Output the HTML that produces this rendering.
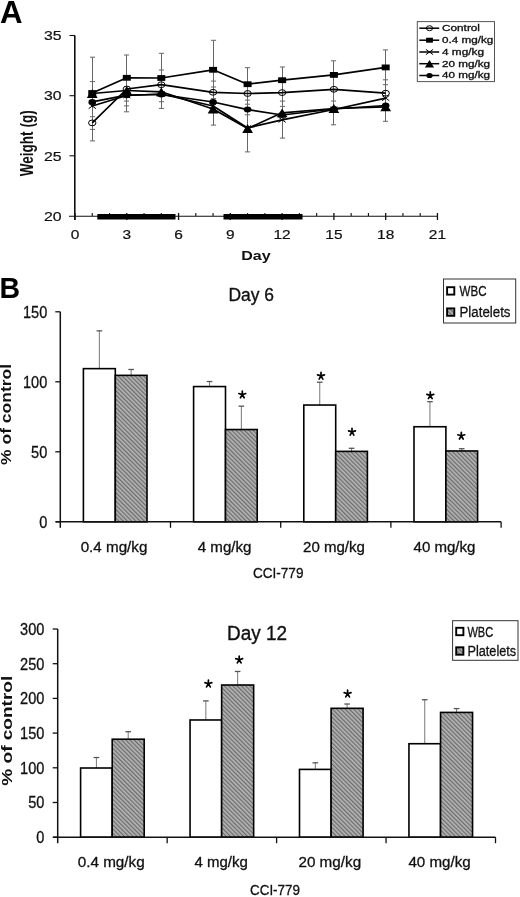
<!DOCTYPE html>
<html><head><meta charset="utf-8"><title>Figure</title>
<style>
html,body{margin:0;padding:0;background:#fff;}
svg{display:block;font-family:"Liberation Sans", sans-serif;will-change:transform;}
</style></head><body>
<svg width="520" height="897" viewBox="0 0 520 897">
<defs>
<pattern id="hatch" patternUnits="userSpaceOnUse" width="3" height="3" patternTransform="rotate(-45)">
<rect width="3" height="3" fill="#b6b6b6"/><rect width="1.3" height="3" fill="#6c6c6c"/>
</pattern>
</defs>
<rect width="520" height="897" fill="#fff"/>
<g id="panelA">
<text x="0" y="22.5" font-size="31.2" text-anchor="start" font-weight="bold" fill="#000" >A</text>
<g stroke="#111" fill="none">
<line x1="74.8" y1="35.5" x2="74.8" y2="220" stroke-width="1.6"/>
<line x1="69" y1="216.2" x2="437.5" y2="216.2" stroke-width="1.1"/>
<line x1="69.5" y1="35.5" x2="75" y2="35.5" stroke-width="1.1"/>
<line x1="69.5" y1="95.7" x2="75" y2="95.7" stroke-width="1.1"/>
<line x1="69.5" y1="155.8" x2="75" y2="155.8" stroke-width="1.1"/>
<line x1="75.00" y1="213" x2="75.00" y2="220" stroke-width="1.3"/>
<line x1="92.26" y1="213" x2="92.26" y2="216" stroke-width="1.1"/>
<line x1="109.52" y1="213" x2="109.52" y2="216" stroke-width="1.1"/>
<line x1="126.78" y1="213" x2="126.78" y2="220" stroke-width="1.3"/>
<line x1="144.04" y1="213" x2="144.04" y2="216" stroke-width="1.1"/>
<line x1="161.30" y1="213" x2="161.30" y2="216" stroke-width="1.1"/>
<line x1="178.56" y1="213" x2="178.56" y2="220" stroke-width="1.3"/>
<line x1="195.82" y1="213" x2="195.82" y2="216" stroke-width="1.1"/>
<line x1="213.08" y1="213" x2="213.08" y2="216" stroke-width="1.1"/>
<line x1="230.34" y1="213" x2="230.34" y2="220" stroke-width="1.3"/>
<line x1="247.60" y1="213" x2="247.60" y2="216" stroke-width="1.1"/>
<line x1="264.86" y1="213" x2="264.86" y2="216" stroke-width="1.1"/>
<line x1="282.12" y1="213" x2="282.12" y2="220" stroke-width="1.3"/>
<line x1="299.38" y1="213" x2="299.38" y2="216" stroke-width="1.1"/>
<line x1="316.64" y1="213" x2="316.64" y2="216" stroke-width="1.1"/>
<line x1="333.90" y1="213" x2="333.90" y2="220" stroke-width="1.3"/>
<line x1="351.16" y1="213" x2="351.16" y2="216" stroke-width="1.1"/>
<line x1="368.42" y1="213" x2="368.42" y2="216" stroke-width="1.1"/>
<line x1="385.68" y1="213" x2="385.68" y2="220" stroke-width="1.3"/>
<line x1="402.94" y1="213" x2="402.94" y2="216" stroke-width="1.1"/>
<line x1="420.20" y1="213" x2="420.20" y2="216" stroke-width="1.1"/>
<line x1="437.46" y1="213" x2="437.46" y2="220" stroke-width="1.3"/>
</g>
<rect x="97.3" y="214" width="78.2" height="5.5" fill="#000"/>
<rect x="223.5" y="214" width="79" height="5.5" fill="#000"/>
<text x="61.5" y="40.2" font-size="12.9" text-anchor="end" textLength="17.6" lengthAdjust="spacingAndGlyphs" fill="#111" stroke="#111" stroke-width="0.2" >35</text>
<text x="61.5" y="100.4" font-size="12.9" text-anchor="end" textLength="17.6" lengthAdjust="spacingAndGlyphs" fill="#111" stroke="#111" stroke-width="0.2" >30</text>
<text x="61.5" y="160.5" font-size="12.9" text-anchor="end" textLength="17.6" lengthAdjust="spacingAndGlyphs" fill="#111" stroke="#111" stroke-width="0.2" >25</text>
<text x="61.5" y="220.7" font-size="12.9" text-anchor="end" textLength="17.6" lengthAdjust="spacingAndGlyphs" fill="#111" stroke="#111" stroke-width="0.2" >20</text>
<text x="75.0" y="238.5" font-size="12.9" text-anchor="middle" textLength="8.6" lengthAdjust="spacingAndGlyphs" fill="#111" stroke="#111" stroke-width="0.2" >0</text>
<text x="126.78" y="238.5" font-size="12.9" text-anchor="middle" textLength="8.6" lengthAdjust="spacingAndGlyphs" fill="#111" stroke="#111" stroke-width="0.2" >3</text>
<text x="178.56" y="238.5" font-size="12.9" text-anchor="middle" textLength="8.6" lengthAdjust="spacingAndGlyphs" fill="#111" stroke="#111" stroke-width="0.2" >6</text>
<text x="230.34" y="238.5" font-size="12.9" text-anchor="middle" textLength="8.6" lengthAdjust="spacingAndGlyphs" fill="#111" stroke="#111" stroke-width="0.2" >9</text>
<text x="282.12" y="238.5" font-size="12.9" text-anchor="middle" textLength="17.2" lengthAdjust="spacingAndGlyphs" fill="#111" stroke="#111" stroke-width="0.2" >12</text>
<text x="333.90000000000003" y="238.5" font-size="12.9" text-anchor="middle" textLength="17.2" lengthAdjust="spacingAndGlyphs" fill="#111" stroke="#111" stroke-width="0.2" >15</text>
<text x="385.68" y="238.5" font-size="12.9" text-anchor="middle" textLength="17.2" lengthAdjust="spacingAndGlyphs" fill="#111" stroke="#111" stroke-width="0.2" >18</text>
<text x="437.46000000000004" y="238.5" font-size="12.9" text-anchor="middle" textLength="17.2" lengthAdjust="spacingAndGlyphs" fill="#111" stroke="#111" stroke-width="0.2" >21</text>
<text x="256" y="260" font-size="12.9" text-anchor="middle" font-weight="bold" textLength="29.5" lengthAdjust="spacingAndGlyphs" fill="#111" >Day</text>
<text transform="translate(32.8,143.3) scale(1.4,1) rotate(-90)" x="0" y="0" font-size="12.9" font-weight="bold" text-anchor="middle" textLength="66" lengthAdjust="spacingAndGlyphs" fill="#111">Weight (g)</text>
<g stroke="#666" stroke-width="1" fill="none">
<line x1="92.50" y1="57.2" x2="92.50" y2="140.9"/>
<line x1="89.90" y1="57.2" x2="95.10" y2="57.2"/>
<line x1="89.90" y1="81.6" x2="95.10" y2="81.6"/>
<line x1="89.90" y1="116.7" x2="95.10" y2="116.7"/>
<line x1="89.90" y1="129.4" x2="95.10" y2="129.4"/>
<line x1="89.90" y1="140.9" x2="95.10" y2="140.9"/>
<line x1="126.50" y1="55" x2="126.50" y2="111.8"/>
<line x1="123.90" y1="55" x2="129.10" y2="55"/>
<line x1="123.90" y1="101.1" x2="129.10" y2="101.1"/>
<line x1="123.90" y1="105.9" x2="129.10" y2="105.9"/>
<line x1="123.90" y1="111.8" x2="129.10" y2="111.8"/>
<line x1="161.50" y1="53.3" x2="161.50" y2="108.4"/>
<line x1="158.90" y1="53.3" x2="164.10" y2="53.3"/>
<line x1="158.90" y1="70" x2="164.10" y2="70"/>
<line x1="158.90" y1="101.7" x2="164.10" y2="101.7"/>
<line x1="158.90" y1="108.4" x2="164.10" y2="108.4"/>
<line x1="213.50" y1="40.3" x2="213.50" y2="125.1"/>
<line x1="210.90" y1="40.3" x2="216.10" y2="40.3"/>
<line x1="210.90" y1="81.1" x2="216.10" y2="81.1"/>
<line x1="210.90" y1="87" x2="216.10" y2="87"/>
<line x1="210.90" y1="98.6" x2="216.10" y2="98.6"/>
<line x1="210.90" y1="125.1" x2="216.10" y2="125.1"/>
<line x1="247.50" y1="67.7" x2="247.50" y2="151.9"/>
<line x1="244.90" y1="67.7" x2="250.10" y2="67.7"/>
<line x1="244.90" y1="100.1" x2="250.10" y2="100.1"/>
<line x1="244.90" y1="104.2" x2="250.10" y2="104.2"/>
<line x1="244.90" y1="114.8" x2="250.10" y2="114.8"/>
<line x1="244.90" y1="151.9" x2="250.10" y2="151.9"/>
<line x1="282.50" y1="67" x2="282.50" y2="138.1"/>
<line x1="279.90" y1="67" x2="285.10" y2="67"/>
<line x1="279.90" y1="101.1" x2="285.10" y2="101.1"/>
<line x1="279.90" y1="106.4" x2="285.10" y2="106.4"/>
<line x1="279.90" y1="138.1" x2="285.10" y2="138.1"/>
<line x1="333.50" y1="60.8" x2="333.50" y2="124.8"/>
<line x1="330.90" y1="60.8" x2="336.10" y2="60.8"/>
<line x1="330.90" y1="101" x2="336.10" y2="101"/>
<line x1="330.90" y1="124.8" x2="336.10" y2="124.8"/>
<line x1="385.50" y1="49.9" x2="385.50" y2="121.3"/>
<line x1="382.90" y1="49.9" x2="388.10" y2="49.9"/>
<line x1="382.90" y1="79.8" x2="388.10" y2="79.8"/>
<line x1="382.90" y1="84.7" x2="388.10" y2="84.7"/>
<line x1="382.90" y1="121.3" x2="388.10" y2="121.3"/>
</g>
<polyline points="92.26,122.9 126.78,89 161.30,84.7 213.08,92.3 247.60,93.5 282.12,92.6 333.90,89.3 385.68,93.2" fill="none" stroke="#000" stroke-width="1.7" stroke-linejoin="round"/>
<polyline points="92.26,106 126.78,95.5 161.30,94 213.08,106 247.60,128 282.12,119.8 333.90,109.5 385.68,98.1" fill="none" stroke="#000" stroke-width="1.7" stroke-linejoin="round"/>
<polyline points="92.26,101.9 126.78,95.2 161.30,94.5 213.08,102 247.60,109.6 282.12,115 333.90,109 385.68,105.5" fill="none" stroke="#000" stroke-width="1.7" stroke-linejoin="round"/>
<polyline points="92.26,93.5 126.78,90.5 161.30,91.8 213.08,109 247.60,128.5 282.12,112.8 333.90,108.5 385.68,106.8" fill="none" stroke="#000" stroke-width="1.7" stroke-linejoin="round"/>
<polyline points="92.26,93 126.78,77.8 161.30,78 213.08,69.8 247.60,84.2 282.12,80.2 333.90,74.9 385.68,67.4" fill="none" stroke="#000" stroke-width="1.7" stroke-linejoin="round"/>
<ellipse cx="92.26" cy="122.9" rx="3.7" ry="2.9" fill="none" stroke="#000" stroke-width="1"/>
<ellipse cx="126.78" cy="89" rx="3.7" ry="2.9" fill="none" stroke="#000" stroke-width="1"/>
<ellipse cx="161.30" cy="84.7" rx="3.7" ry="2.9" fill="none" stroke="#000" stroke-width="1"/>
<ellipse cx="213.08" cy="92.3" rx="3.7" ry="2.9" fill="none" stroke="#000" stroke-width="1"/>
<ellipse cx="247.60" cy="93.5" rx="3.7" ry="2.9" fill="none" stroke="#000" stroke-width="1"/>
<ellipse cx="282.12" cy="92.6" rx="3.7" ry="2.9" fill="none" stroke="#000" stroke-width="1"/>
<ellipse cx="333.90" cy="89.3" rx="3.7" ry="2.9" fill="none" stroke="#000" stroke-width="1"/>
<ellipse cx="385.68" cy="93.2" rx="3.7" ry="2.9" fill="none" stroke="#000" stroke-width="1"/>
<path d="M88.66,103.4 L95.86,108.6 M88.66,108.6 L95.86,103.4" stroke="#000" stroke-width="1"/>
<path d="M123.18,92.9 L130.38,98.1 M123.18,98.1 L130.38,92.9" stroke="#000" stroke-width="1"/>
<path d="M157.70,91.4 L164.90,96.6 M157.70,96.6 L164.90,91.4" stroke="#000" stroke-width="1"/>
<path d="M209.48,103.4 L216.68,108.6 M209.48,108.6 L216.68,103.4" stroke="#000" stroke-width="1"/>
<path d="M244.00,125.4 L251.20,130.6 M244.00,130.6 L251.20,125.4" stroke="#000" stroke-width="1"/>
<path d="M278.52,117.2 L285.72,122.39999999999999 M278.52,122.39999999999999 L285.72,117.2" stroke="#000" stroke-width="1"/>
<path d="M330.30,106.9 L337.50,112.1 M330.30,112.1 L337.50,106.9" stroke="#000" stroke-width="1"/>
<path d="M382.08,95.5 L389.28,100.69999999999999 M382.08,100.69999999999999 L389.28,95.5" stroke="#000" stroke-width="1"/>
<ellipse cx="92.26" cy="101.9" rx="3.8" ry="3.0" fill="#000"/>
<ellipse cx="126.78" cy="95.2" rx="3.8" ry="3.0" fill="#000"/>
<ellipse cx="161.30" cy="94.5" rx="3.8" ry="3.0" fill="#000"/>
<ellipse cx="213.08" cy="102" rx="3.8" ry="3.0" fill="#000"/>
<ellipse cx="247.60" cy="109.6" rx="3.8" ry="3.0" fill="#000"/>
<ellipse cx="282.12" cy="115" rx="3.8" ry="3.0" fill="#000"/>
<ellipse cx="333.90" cy="109" rx="3.8" ry="3.0" fill="#000"/>
<ellipse cx="385.68" cy="105.5" rx="3.8" ry="3.0" fill="#000"/>
<polygon points="86.86,97.9 97.66,97.9 92.26,89.1" fill="#000"/>
<polygon points="121.38,94.9 132.18,94.9 126.78,86.1" fill="#000"/>
<polygon points="155.90,96.2 166.70,96.2 161.30,87.39999999999999" fill="#000"/>
<polygon points="207.68,113.4 218.48,113.4 213.08,104.6" fill="#000"/>
<polygon points="242.20,132.9 253.00,132.9 247.60,124.1" fill="#000"/>
<polygon points="276.72,117.2 287.52,117.2 282.12,108.39999999999999" fill="#000"/>
<polygon points="328.50,112.9 339.30,112.9 333.90,104.1" fill="#000"/>
<polygon points="380.28,111.2 391.08,111.2 385.68,102.39999999999999" fill="#000"/>
<rect x="88.26" y="90.10" width="8" height="5.8" fill="#000"/>
<rect x="122.78" y="74.90" width="8" height="5.8" fill="#000"/>
<rect x="157.30" y="75.10" width="8" height="5.8" fill="#000"/>
<rect x="209.08" y="66.90" width="8" height="5.8" fill="#000"/>
<rect x="243.60" y="81.30" width="8" height="5.8" fill="#000"/>
<rect x="278.12" y="77.30" width="8" height="5.8" fill="#000"/>
<rect x="329.90" y="72.00" width="8" height="5.8" fill="#000"/>
<rect x="381.68" y="64.50" width="8" height="5.8" fill="#000"/>
<rect x="417.3" y="21.6" width="77.2" height="60" fill="#fff" stroke="#555" stroke-width="1"/>
<line x1="419.3" y1="28.2" x2="439.2" y2="28.2" stroke="#000" stroke-width="1.5"/>
<ellipse cx="429.50" cy="28.2" rx="3.145" ry="2.465" fill="none" stroke="#000" stroke-width="1"/>
<text x="442" y="31.0" font-size="8.5" text-anchor="start" textLength="38" lengthAdjust="spacingAndGlyphs" fill="#111" stroke="#111" stroke-width="0.3" >Control</text>
<line x1="419.3" y1="40.2" x2="439.2" y2="40.2" stroke="#000" stroke-width="1.5"/>
<rect x="426.10" y="37.73" width="6.8" height="4.93" fill="#000"/>
<text x="442" y="43.0" font-size="8.5" text-anchor="start" textLength="51.2" lengthAdjust="spacingAndGlyphs" fill="#111" stroke="#111" stroke-width="0.3" >0.4 mg/kg</text>
<line x1="419.3" y1="52" x2="439.2" y2="52" stroke="#000" stroke-width="1.5"/>
<path d="M425.90,49.4 L433.10,54.6 M425.90,54.6 L433.10,49.4" stroke="#000" stroke-width="1"/>
<text x="442" y="54.8" font-size="8.5" text-anchor="start" textLength="42" lengthAdjust="spacingAndGlyphs" fill="#111" stroke="#111" stroke-width="0.3" >4 mg/kg</text>
<line x1="419.3" y1="63.7" x2="439.2" y2="63.7" stroke="#000" stroke-width="1.5"/>
<polygon points="424.91,67.44 434.09,67.44 429.50,59.96" fill="#000"/>
<text x="442" y="66.5" font-size="8.5" text-anchor="start" textLength="48" lengthAdjust="spacingAndGlyphs" fill="#111" stroke="#111" stroke-width="0.3" >20 mg/kg</text>
<line x1="419.3" y1="75.5" x2="439.2" y2="75.5" stroke="#000" stroke-width="1.5"/>
<ellipse cx="429.50" cy="75.5" rx="3.23" ry="2.55" fill="#000"/>
<text x="442" y="78.3" font-size="8.5" text-anchor="start" textLength="48" lengthAdjust="spacingAndGlyphs" fill="#111" stroke="#111" stroke-width="0.3" >40 mg/kg</text>
</g>
<text x="-0.5" y="297.5" font-size="30" text-anchor="start" font-weight="bold" textLength="20.6" lengthAdjust="spacingAndGlyphs" fill="#000" >B</text>
<line x1="55.3" y1="521.80" x2="60.3" y2="521.80" stroke="#111" stroke-width="1.3"/>
<text x="47.3" y="527.905" font-size="16.5" text-anchor="end" textLength="8.1" lengthAdjust="spacingAndGlyphs" fill="#111" stroke="#111" stroke-width="0.3" >0</text>
<line x1="55.3" y1="451.80" x2="60.3" y2="451.80" stroke="#111" stroke-width="1.3"/>
<text x="47.3" y="457.905" font-size="16.5" text-anchor="end" textLength="16.2" lengthAdjust="spacingAndGlyphs" fill="#111" stroke="#111" stroke-width="0.3" >50</text>
<line x1="55.3" y1="381.80" x2="60.3" y2="381.80" stroke="#111" stroke-width="1.3"/>
<text x="47.3" y="387.905" font-size="16.5" text-anchor="end" textLength="24.299999999999997" lengthAdjust="spacingAndGlyphs" fill="#111" stroke="#111" stroke-width="0.3" >100</text>
<line x1="55.3" y1="311.80" x2="60.3" y2="311.80" stroke="#111" stroke-width="1.3"/>
<text x="47.3" y="317.905" font-size="16.5" text-anchor="end" textLength="24.299999999999997" lengthAdjust="spacingAndGlyphs" fill="#111" stroke="#111" stroke-width="0.3" >150</text>
<line x1="99.35" y1="330.84" x2="99.35" y2="368.64" stroke="#777" stroke-width="1"/>
<line x1="96.55" y1="330.84" x2="102.15" y2="330.84" stroke="#555" stroke-width="1.3"/>
<line x1="131.15" y1="369.48" x2="131.15" y2="375.36" stroke="#777" stroke-width="1"/>
<line x1="128.35" y1="369.48" x2="133.95" y2="369.48" stroke="#555" stroke-width="1.3"/>
<rect x="83.40" y="368.64" width="31.9" height="153.16" fill="#fff" stroke="#000" stroke-width="1.6"/>
<rect x="115.30" y="375.36" width="31.7" height="146.44" fill="url(#hatch)" stroke="#000" stroke-width="1.6"/>
<line x1="209.55" y1="381.52" x2="209.55" y2="386.56" stroke="#777" stroke-width="1"/>
<line x1="206.75" y1="381.52" x2="212.35" y2="381.52" stroke="#555" stroke-width="1.3"/>
<line x1="241.35" y1="406.16" x2="241.35" y2="429.54" stroke="#777" stroke-width="1"/>
<line x1="238.55" y1="406.16" x2="244.15" y2="406.16" stroke="#555" stroke-width="1.3"/>
<rect x="193.60" y="386.56" width="31.9" height="135.24" fill="#fff" stroke="#000" stroke-width="1.6"/>
<rect x="225.50" y="429.54" width="31.7" height="92.26" fill="url(#hatch)" stroke="#000" stroke-width="1.6"/>
<path d="M242.30,394.60 L242.30,391.10 M242.30,394.60 L245.74,393.55 M242.30,394.60 L244.15,397.80 M242.30,394.60 L240.45,397.80 M242.30,394.60 L238.86,393.55 " stroke="#000" stroke-width="1.7" stroke-linecap="round" fill="none"/>
<line x1="319.75" y1="382.22" x2="319.75" y2="405.04" stroke="#777" stroke-width="1"/>
<line x1="316.95" y1="382.22" x2="322.55" y2="382.22" stroke="#555" stroke-width="1.3"/>
<line x1="351.55" y1="448.30" x2="351.55" y2="451.38" stroke="#777" stroke-width="1"/>
<line x1="348.75" y1="448.30" x2="354.35" y2="448.30" stroke="#555" stroke-width="1.3"/>
<rect x="303.80" y="405.04" width="31.9" height="116.76" fill="#fff" stroke="#000" stroke-width="1.6"/>
<rect x="335.70" y="451.38" width="31.7" height="70.42" fill="url(#hatch)" stroke="#000" stroke-width="1.6"/>
<path d="M321.00,375.90 L321.00,372.40 M321.00,375.90 L324.44,374.85 M321.00,375.90 L322.85,379.10 M321.00,375.90 L319.15,379.10 M321.00,375.90 L317.56,374.85 " stroke="#000" stroke-width="1.7" stroke-linecap="round" fill="none"/>
<path d="M352.00,431.90 L352.00,428.40 M352.00,431.90 L355.44,430.85 M352.00,431.90 L353.85,435.10 M352.00,431.90 L350.15,435.10 M352.00,431.90 L348.56,430.85 " stroke="#000" stroke-width="1.7" stroke-linecap="round" fill="none"/>
<line x1="429.95" y1="401.68" x2="429.95" y2="426.74" stroke="#777" stroke-width="1"/>
<line x1="427.15" y1="401.68" x2="432.75" y2="401.68" stroke="#555" stroke-width="1.3"/>
<line x1="461.75" y1="448.72" x2="461.75" y2="450.96" stroke="#777" stroke-width="1"/>
<line x1="458.95" y1="448.72" x2="464.55" y2="448.72" stroke="#555" stroke-width="1.3"/>
<rect x="414.00" y="426.74" width="31.9" height="95.06" fill="#fff" stroke="#000" stroke-width="1.6"/>
<rect x="445.90" y="450.96" width="31.7" height="70.84" fill="url(#hatch)" stroke="#000" stroke-width="1.6"/>
<path d="M430.30,395.40 L430.30,391.90 M430.30,395.40 L433.74,394.35 M430.30,395.40 L432.15,398.60 M430.30,395.40 L428.45,398.60 M430.30,395.40 L426.86,394.35 " stroke="#000" stroke-width="1.7" stroke-linecap="round" fill="none"/>
<path d="M461.30,435.80 L461.30,432.30 M461.30,435.80 L464.74,434.75 M461.30,435.80 L463.15,439.00 M461.30,435.80 L459.45,439.00 M461.30,435.80 L457.86,434.75 " stroke="#000" stroke-width="1.7" stroke-linecap="round" fill="none"/>
<line x1="60.3" y1="311.80" x2="60.3" y2="527.8" stroke="#111" stroke-width="1.5"/>
<line x1="55.8" y1="521.8" x2="501.10" y2="521.8" stroke="#111" stroke-width="1.4"/>
<line x1="170.50" y1="521.8" x2="170.50" y2="527.8" stroke="#111" stroke-width="1.3"/>
<line x1="280.70" y1="521.8" x2="280.70" y2="527.8" stroke="#111" stroke-width="1.3"/>
<line x1="390.90" y1="521.8" x2="390.90" y2="527.8" stroke="#111" stroke-width="1.3"/>
<line x1="501.10" y1="521.8" x2="501.10" y2="527.8" stroke="#111" stroke-width="1.3"/>
<text x="251.3" y="301.1" font-size="17.5" text-anchor="middle" textLength="45.5" lengthAdjust="spacingAndGlyphs" fill="#111" stroke="#111" stroke-width="0.35" >Day 6</text>
<rect x="443.5" y="279" width="72.2" height="44" fill="#fff" stroke="#333" stroke-width="1"/>
<rect x="447.1" y="287.2" width="7.2" height="7.4" fill="#fff" stroke="#000" stroke-width="1.9"/>
<rect x="447.1" y="308.4" width="7.2" height="7.4" fill="url(#hatch)" stroke="#000" stroke-width="1.9"/>
<text x="459.5" y="296.0" font-size="15.2" text-anchor="start" textLength="27" lengthAdjust="spacingAndGlyphs" fill="#111" stroke="#111" stroke-width="0.3" >WBC</text>
<text x="459.5" y="317.2" font-size="15.2" text-anchor="start" textLength="51" lengthAdjust="spacingAndGlyphs" fill="#111" stroke="#111" stroke-width="0.3" >Platelets</text>
<text x="114" y="551.5" font-size="14.5" text-anchor="middle" textLength="66.7" lengthAdjust="spacingAndGlyphs" fill="#111" stroke="#111" stroke-width="0.3" >0.4 mg/kg</text>
<text x="224.6" y="551.5" font-size="14.5" text-anchor="middle" textLength="53.8" lengthAdjust="spacingAndGlyphs" fill="#111" stroke="#111" stroke-width="0.3" >4 mg/kg</text>
<text x="334" y="551.5" font-size="14.5" text-anchor="middle" textLength="61.9" lengthAdjust="spacingAndGlyphs" fill="#111" stroke="#111" stroke-width="0.3" >20 mg/kg</text>
<text x="444.5" y="551.5" font-size="14.5" text-anchor="middle" textLength="61.9" lengthAdjust="spacingAndGlyphs" fill="#111" stroke="#111" stroke-width="0.3" >40 mg/kg</text>
<text x="278.2" y="578" font-size="15.5" text-anchor="middle" textLength="50.5" lengthAdjust="spacingAndGlyphs" fill="#111" stroke="#111" stroke-width="0.3" >CCI-779</text>
<text transform="translate(11,414.4) rotate(-90)" font-size="13.9" font-weight="bold" text-anchor="middle" textLength="101" lengthAdjust="spacingAndGlyphs" fill="#111">% of control</text>
<line x1="52.7" y1="837.20" x2="57.7" y2="837.20" stroke="#111" stroke-width="1.3"/>
<text x="44.4" y="843.1940000000001" font-size="16.2" text-anchor="end" textLength="8.1" lengthAdjust="spacingAndGlyphs" fill="#111" stroke="#111" stroke-width="0.3" >0</text>
<line x1="52.7" y1="802.50" x2="57.7" y2="802.50" stroke="#111" stroke-width="1.3"/>
<text x="44.4" y="808.494" font-size="16.2" text-anchor="end" textLength="16.2" lengthAdjust="spacingAndGlyphs" fill="#111" stroke="#111" stroke-width="0.3" >50</text>
<line x1="52.7" y1="767.80" x2="57.7" y2="767.80" stroke="#111" stroke-width="1.3"/>
<text x="44.4" y="773.7940000000001" font-size="16.2" text-anchor="end" textLength="24.299999999999997" lengthAdjust="spacingAndGlyphs" fill="#111" stroke="#111" stroke-width="0.3" >100</text>
<line x1="52.7" y1="733.10" x2="57.7" y2="733.10" stroke="#111" stroke-width="1.3"/>
<text x="44.4" y="739.094" font-size="16.2" text-anchor="end" textLength="24.299999999999997" lengthAdjust="spacingAndGlyphs" fill="#111" stroke="#111" stroke-width="0.3" >150</text>
<line x1="52.7" y1="698.40" x2="57.7" y2="698.40" stroke="#111" stroke-width="1.3"/>
<text x="44.4" y="704.3940000000001" font-size="16.2" text-anchor="end" textLength="24.299999999999997" lengthAdjust="spacingAndGlyphs" fill="#111" stroke="#111" stroke-width="0.3" >200</text>
<line x1="52.7" y1="663.70" x2="57.7" y2="663.70" stroke="#111" stroke-width="1.3"/>
<text x="44.4" y="669.6940000000001" font-size="16.2" text-anchor="end" textLength="24.299999999999997" lengthAdjust="spacingAndGlyphs" fill="#111" stroke="#111" stroke-width="0.3" >250</text>
<line x1="52.7" y1="629.00" x2="57.7" y2="629.00" stroke="#111" stroke-width="1.3"/>
<text x="44.4" y="634.994" font-size="16.2" text-anchor="end" textLength="24.299999999999997" lengthAdjust="spacingAndGlyphs" fill="#111" stroke="#111" stroke-width="0.3" >300</text>
<line x1="96.40" y1="757.53" x2="96.40" y2="768.01" stroke="#777" stroke-width="1"/>
<line x1="93.60" y1="757.53" x2="99.20" y2="757.53" stroke="#555" stroke-width="1.3"/>
<line x1="128.20" y1="731.71" x2="128.20" y2="739.21" stroke="#777" stroke-width="1"/>
<line x1="125.40" y1="731.71" x2="131.00" y2="731.71" stroke="#555" stroke-width="1.3"/>
<rect x="80.60" y="768.01" width="31.6" height="69.19" fill="#fff" stroke="#000" stroke-width="1.6"/>
<rect x="112.20" y="739.21" width="32" height="97.99" fill="url(#hatch)" stroke="#000" stroke-width="1.6"/>
<line x1="205.85" y1="700.90" x2="205.85" y2="719.98" stroke="#777" stroke-width="1"/>
<line x1="203.05" y1="700.90" x2="208.65" y2="700.90" stroke="#555" stroke-width="1.3"/>
<line x1="237.65" y1="671.47" x2="237.65" y2="685.01" stroke="#777" stroke-width="1"/>
<line x1="234.85" y1="671.47" x2="240.45" y2="671.47" stroke="#555" stroke-width="1.3"/>
<rect x="190.05" y="719.98" width="31.6" height="117.22" fill="#fff" stroke="#000" stroke-width="1.6"/>
<rect x="221.65" y="685.01" width="32" height="152.19" fill="url(#hatch)" stroke="#000" stroke-width="1.6"/>
<path d="M208.40,683.70 L208.40,680.20 M208.40,683.70 L211.84,682.65 M208.40,683.70 L210.25,686.90 M208.40,683.70 L206.55,686.90 M208.40,683.70 L204.96,682.65 " stroke="#000" stroke-width="1.7" stroke-linecap="round" fill="none"/>
<path d="M239.20,659.70 L239.20,656.20 M239.20,659.70 L242.64,658.65 M239.20,659.70 L241.05,662.90 M239.20,659.70 L237.35,662.90 M239.20,659.70 L235.76,658.65 " stroke="#000" stroke-width="1.7" stroke-linecap="round" fill="none"/>
<line x1="315.30" y1="762.80" x2="315.30" y2="769.40" stroke="#777" stroke-width="1"/>
<line x1="312.50" y1="762.80" x2="318.10" y2="762.80" stroke="#555" stroke-width="1.3"/>
<line x1="347.10" y1="704.02" x2="347.10" y2="708.32" stroke="#777" stroke-width="1"/>
<line x1="344.30" y1="704.02" x2="349.90" y2="704.02" stroke="#555" stroke-width="1.3"/>
<rect x="299.50" y="769.40" width="31.6" height="67.80" fill="#fff" stroke="#000" stroke-width="1.6"/>
<rect x="331.10" y="708.32" width="32" height="128.88" fill="url(#hatch)" stroke="#000" stroke-width="1.6"/>
<path d="M347.60,693.70 L347.60,690.20 M347.60,693.70 L351.04,692.65 M347.60,693.70 L349.45,696.90 M347.60,693.70 L345.75,696.90 M347.60,693.70 L344.16,692.65 " stroke="#000" stroke-width="1.7" stroke-linecap="round" fill="none"/>
<line x1="424.75" y1="699.72" x2="424.75" y2="743.72" stroke="#777" stroke-width="1"/>
<line x1="421.95" y1="699.72" x2="427.55" y2="699.72" stroke="#555" stroke-width="1.3"/>
<line x1="456.55" y1="708.60" x2="456.55" y2="712.42" stroke="#777" stroke-width="1"/>
<line x1="453.75" y1="708.60" x2="459.35" y2="708.60" stroke="#555" stroke-width="1.3"/>
<rect x="408.95" y="743.72" width="31.6" height="93.48" fill="#fff" stroke="#000" stroke-width="1.6"/>
<rect x="440.55" y="712.42" width="32" height="124.78" fill="url(#hatch)" stroke="#000" stroke-width="1.6"/>
<line x1="57.7" y1="629.00" x2="57.7" y2="843.2" stroke="#111" stroke-width="1.5"/>
<line x1="53.2" y1="837.2" x2="495.50" y2="837.2" stroke="#111" stroke-width="1.4"/>
<line x1="167.15" y1="837.2" x2="167.15" y2="843.2" stroke="#111" stroke-width="1.3"/>
<line x1="276.60" y1="837.2" x2="276.60" y2="843.2" stroke="#111" stroke-width="1.3"/>
<line x1="386.05" y1="837.2" x2="386.05" y2="843.2" stroke="#111" stroke-width="1.3"/>
<line x1="495.50" y1="837.2" x2="495.50" y2="843.2" stroke="#111" stroke-width="1.3"/>
<text x="257" y="640" font-size="19.5" text-anchor="middle" textLength="60" lengthAdjust="spacingAndGlyphs" fill="#111" stroke="#111" stroke-width="0.35" >Day 12</text>
<rect x="452.6" y="620.7" width="65.4" height="39.6" fill="#fff" stroke="#333" stroke-width="1"/>
<rect x="456.20000000000005" y="627.8" width="7.2" height="7.4" fill="#fff" stroke="#000" stroke-width="1.9"/>
<rect x="456.20000000000005" y="647.3" width="7.2" height="7.4" fill="url(#hatch)" stroke="#000" stroke-width="1.9"/>
<text x="467.4" y="636.6" font-size="15.2" text-anchor="start" textLength="25.8" lengthAdjust="spacingAndGlyphs" fill="#111" stroke="#111" stroke-width="0.3" >WBC</text>
<text x="467.4" y="656.1" font-size="15.2" text-anchor="start" textLength="48.8" lengthAdjust="spacingAndGlyphs" fill="#111" stroke="#111" stroke-width="0.3" >Platelets</text>
<text x="111.2" y="866.5" font-size="14.5" text-anchor="middle" textLength="67" lengthAdjust="spacingAndGlyphs" fill="#111" stroke="#111" stroke-width="0.3" >0.4 mg/kg</text>
<text x="221.1" y="866.5" font-size="14.5" text-anchor="middle" textLength="53.4" lengthAdjust="spacingAndGlyphs" fill="#111" stroke="#111" stroke-width="0.3" >4 mg/kg</text>
<text x="329.8" y="866.5" font-size="14.5" text-anchor="middle" textLength="62.7" lengthAdjust="spacingAndGlyphs" fill="#111" stroke="#111" stroke-width="0.3" >20 mg/kg</text>
<text x="439.6" y="866.5" font-size="14.5" text-anchor="middle" textLength="62.3" lengthAdjust="spacingAndGlyphs" fill="#111" stroke="#111" stroke-width="0.3" >40 mg/kg</text>
<text x="275" y="895.4" font-size="15" text-anchor="middle" textLength="50" lengthAdjust="spacingAndGlyphs" fill="#111" stroke="#111" stroke-width="0.3" >CCI-779</text>
<text transform="translate(12,730.7) rotate(-90)" font-size="14.5" font-weight="bold" text-anchor="middle" textLength="110" lengthAdjust="spacingAndGlyphs" fill="#111">% of control</text>
</svg>
</body></html>
